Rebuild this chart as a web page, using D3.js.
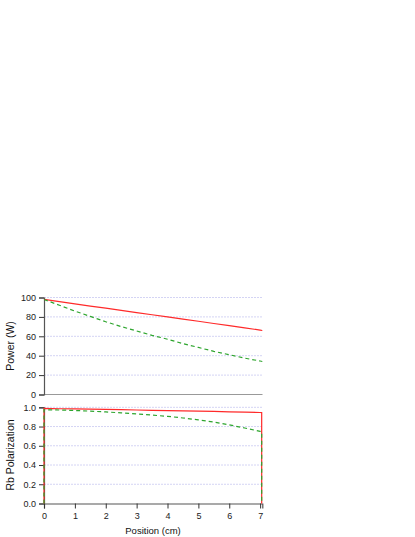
<!DOCTYPE html>
<html><head><meta charset="utf-8">
<script src="https://cdn.jsdelivr.net/npm/d3@7"></script>
<style>
body{margin:0;background:#fff;}
svg{display:block;}
text{font-family:"Liberation Sans",Arial,Helvetica,sans-serif;}
</style></head>
<body>
<svg id="c" width="415" height="537"></svg>
<script>
// Data
const positions = [0, 0.5, 1, 1.5, 2, 2.5, 3, 3.5, 4, 4.5, 5, 5.5, 6, 6.5, 7, 7.07];
const powerRed   = [98, 95.7, 93.5, 91.2, 89, 86.7, 84.5, 82.2, 80, 77.7, 75.5, 73.2, 71, 68.7, 66.4, 66];
const powerGreen = [98, 92, 86, 80.5, 75, 70, 65.5, 61, 57, 52.5, 48.5, 44.5, 41, 37.5, 34.5, 34];

const polPositions = [0, 0, 0.5, 1, 1.5, 2, 2.5, 3, 3.5, 4, 4.5, 5, 5.5, 6, 6.5, 7, 7.05, 7.05];
const polRed   = [0, 0.988, 0.985, 0.983, 0.98, 0.978, 0.975, 0.972, 0.969, 0.966, 0.963, 0.96, 0.957, 0.953, 0.95, 0.946, 0.945, 0];
const polGreen = [0, 0.975, 0.972, 0.967, 0.96, 0.952, 0.942, 0.931, 0.919, 0.906, 0.889, 0.87, 0.846, 0.817, 0.785, 0.75, 0.745, 0];

const powerTicks = [0, 20, 40, 60, 80, 100];
const polTicks = [0, 0.2, 0.4, 0.6, 0.8, 1.0];
const xTicks = [0, 1, 2, 3, 4, 5, 6, 7];

const svg = d3.select("#c");
const x = d3.scaleLinear().domain([0, 7.07]).range([44, 262.3]);
const yP = d3.scaleLinear().domain([0, 100]).range([394.5, 297.5]);
const yR = d3.scaleLinear().domain([0, 1]).range([503.5, 407.3]);

const gridColor = "#d4d4f4";
function grid(yScale, ticks){
  svg.append("g").selectAll("line").data(ticks.filter(t=>t!==0)).join("line")
    .attr("x1", x.range()[0]).attr("x2", x.range()[1])
    .attr("y1", d=>yScale(d)).attr("y2", d=>yScale(d))
    .attr("stroke", gridColor).attr("stroke-width", 1).attr("stroke-dasharray", "2,1");
}
grid(yP, powerTicks);
grid(yR, polTicks);

function styleAxis(g){
  g.select(".domain").attr("stroke", "#555").attr("stroke-width", 1.2);
  g.selectAll(".tick line").attr("stroke", "#333").attr("stroke-width", 1);
  g.selectAll(".tick text").attr("fill", "#222").style("font-size", "9px")
    .style("font-family", '"Liberation Sans",Arial,sans-serif');
}

// top panel bottom line
svg.append("line").attr("x1", 44).attr("x2", 262.5).attr("y1", 394.5).attr("y2", 394.5)
  .attr("stroke", "#999").attr("stroke-width", 1);

const axP = svg.append("g").attr("transform", "translate(44,0)")
  .call(d3.axisLeft(yP).tickValues(powerTicks).tickSize(5).tickPadding(3).tickFormat(d3.format("d")));
styleAxis(axP);
const axR = svg.append("g").attr("transform", "translate(44,0)")
  .call(d3.axisLeft(yR).tickValues(polTicks).tickSize(5).tickPadding(3).tickFormat(d3.format(".1f")));
styleAxis(axR);
const axX = svg.append("g").attr("transform", "translate(0,503.5)")
  .call(d3.axisBottom(x).tickValues(xTicks).tickSize(5).tickPadding(4).tickFormat(d3.format("d")));
styleAxis(axX);

const lineP = d3.line().x((d,i)=>x(positions[i])).y(d=>yP(d));
const lineR = d3.line().x((d,i)=>x(polPositions[i])).y(d=>yR(d));

const red = "#ff2a2a", green = "#2ea52e";
svg.append("path").attr("d", lineP(powerRed)).attr("fill","none").attr("stroke", red).attr("stroke-width", 1.2);
svg.append("path").attr("d", lineP(powerGreen)).attr("fill","none").attr("stroke", green).attr("stroke-width", 1.2).attr("stroke-dasharray","4,3");
svg.append("path").attr("d", lineR(polRed)).attr("fill","none").attr("stroke", red).attr("stroke-width", 1.2);
svg.append("path").attr("d", lineR(polGreen)).attr("fill","none").attr("stroke", green).attr("stroke-width", 1.2).attr("stroke-dasharray","4,3");

svg.append("text").attr("transform", "translate(14,346) rotate(-90)").attr("text-anchor","middle")
  .style("font-size","10.5px").attr("fill","#111").text("Power (W)");
svg.append("text").attr("transform", "translate(14,455) rotate(-90)").attr("text-anchor","middle")
  .style("font-size","10.5px").attr("fill","#111").text("Rb Polarization");
svg.append("text").attr("x", 153).attr("y", 534).attr("text-anchor","middle")
  .style("font-size","9.5px").attr("fill","#111").text("Position (cm)");
</script>
</body></html>
